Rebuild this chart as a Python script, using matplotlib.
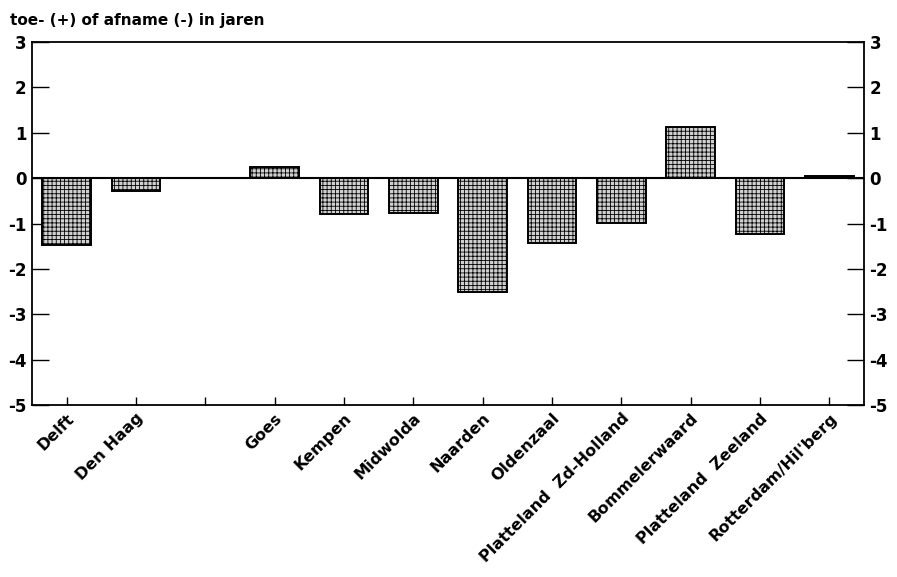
import numpy as np
import matplotlib.pyplot as plt

plt.rcParams['font.family'] = ['DejaVu Sans']
plt.rcParams['hatch.color'] = '#707070'
plt.rcParams['hatch.linewidth'] = 0.6

# ----------------------------------
# Data (empty slot between Den Haag and Goes)
# ----------------------------------
labels = ["Delft", "Den Haag", "", "Goes", "Kempen", "Midwolda", "Naarden",
          "Oldenzaal", "Platteland  Zd-Holland", "Bommelerwaard",
          "Platteland  Zeeland", "Rotterdam/Hil'berg"]
values = [-1.48, -0.28, None, 0.24, -0.78, -0.77, -2.50,
          -1.43, -0.98, 1.14, -1.22, 0.05]
y_ticks = [3, 2, 1, 0, -1, -2, -3, -4, -5]

x = np.arange(len(labels))
xs = [i for i, v in zip(x, values) if v is not None]
vs = [v for v in values if v is not None]

# ----------------------------------
# Figure
# ----------------------------------
fig = plt.figure(figsize=(8.97, 5.77), dpi=100)
ax = fig.add_axes([0.0357, 0.298, 0.9275, 0.629])

ax.bar(xs, vs, width=0.7, facecolor='#d0d0d0', edgecolor='black',
       linewidth=1.4, hatch='++++', zorder=2)
ax.axhline(0, color='black', linewidth=1.5, zorder=3)

ax.set_xlim(-0.5, len(labels) - 0.5)
ax.set_ylim(-5, 3)
ax.set_yticks(y_ticks)
ax.set_yticklabels([str(t) for t in y_ticks], fontsize=12, fontweight='bold')
ax.tick_params(axis='y', direction='in', length=12, width=1,
               left=True, right=True, labelleft=True, labelright=True, pad=4)

ax.set_xticks(x)
ax.set_xticklabels(labels, rotation=45, ha='right', va='top',
                   rotation_mode='anchor', fontsize=11.5, fontweight='bold')
ax.tick_params(axis='x', direction='in', length=6, width=1, pad=4)

for s in ax.spines.values():
    s.set_linewidth(1.3)

fig.text(0.011, 0.978, "toe- (+) of afname (-) in jaren", fontsize=11,
         fontweight='bold', ha='left', va='top')

fig.savefig("out.png", dpi=100)
